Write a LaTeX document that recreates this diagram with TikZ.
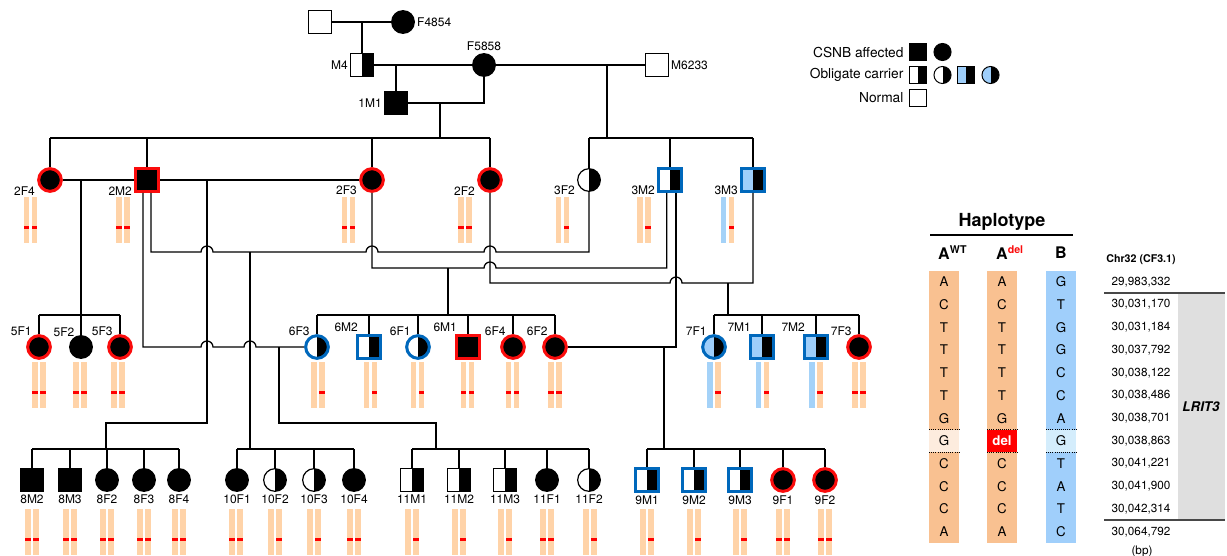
\documentclass[tikz,border=0pt]{standalone}
\usepackage{fontspec}
\setmainfont{TeX Gyre Heros}
\usepackage{tikz}

\definecolor{ringred}{RGB}{250,12,12}
\definecolor{ringblue}{RGB}{0,104,188}
\definecolor{ltblue}{RGB}{158,206,250}
\definecolor{barorange}{RGB}{255,211,168}
\definecolor{barblue}{RGB}{164,210,248}
\definecolor{colorange}{RGB}{249,193,145}
\definecolor{colblue}{RGB}{160,207,251}
\definecolor{paleorange}{RGB}{253,236,222}
\definecolor{paleblue}{RGB}{212,237,252}
\definecolor{boxgray}{RGB}{223,223,223}
\definecolor{rulegray}{RGB}{72,72,72}

\tikzset{
	kin/.style={line width=0.95pt},
	male/.style={rectangle,draw,line width=0.9pt,minimum size=17pt,inner sep=0pt},
	female/.style={circle,draw,line width=0.9pt,minimum size=17pt,inner sep=0pt},
	keysym/.style={draw,line width=0.75pt,minimum size=12.8pt,inner sep=0pt},
	affected/.style={fill=black},
	carrier/.style={path picture={\fill[black] (path picture bounding box.south) rectangle (path picture bounding box.north east);}},
	bcarrier/.style={path picture={\fill[ltblue] (path picture bounding box.south west) rectangle (path picture bounding box.north);
		\fill[black] (path picture bounding box.south) rectangle (path picture bounding box.north east);}},
	redring/.style={draw=ringred,line width=2.25pt},
	bluering/.style={draw=ringblue,line width=2.25pt},
	every label/.append style={inner sep=1.5pt},
	lab2/.style={label={[anchor=east,yshift=-8pt]west:#1}},
	lab3/.style={label={[anchor=south east,xshift=3pt]north west:#1}},
	lab4/.style={label={[label distance=0.5pt]below:#1}},
	legtxt/.style={font=\fontsize{10.3}{12}\selectfont,inner sep=1pt},
	hdr/.style={font=\bfseries\fontsize{12}{14}\selectfont,inner sep=0pt},
	cell/.style={font=\fontsize{10}{12}\selectfont,inner sep=0pt},
	bpcell/.style={font=\fontsize{8.8}{10}\selectfont,inner sep=0pt},
}

% chromosome pair: x of pair centre, top y
\newcommand{\homdel}[2]{%
	\fill[barorange] (#1-6.75,#2) rectangle ++(5.5,46);
	\fill[barorange] (#1+1.25,#2) rectangle ++(5.5,46);
	\fill[red] (#1-6.75,#2+28.5) rectangle ++(5.5,3);
	\fill[red] (#1+1.25,#2+28.5) rectangle ++(5.5,3);}
\newcommand{\hetdel}[3]{%
	\fill[#3] (#1-6.75,#2) rectangle ++(5.5,46);
	\fill[barorange] (#1+1.25,#2) rectangle ++(5.5,46);
	\fill[red] (#1+1.25,#2+28.5) rectangle ++(5.5,3);}

\begin{document}
\begin{tikzpicture}[x=0.75pt,y=-0.75pt,font=\fontsize{9}{10.8}\selectfont]
	
	\useasboundingbox (0,0) rectangle (1227,556);
	
	% generation I
	\node[male] (pGF) at (320,22) {};
	\node[female,affected,label=right:F4854] (pF4854) at (403,22) {};
	\node[male,carrier,label=left:M4] (pM4) at (362,65) {};
	\node[female,affected,label=above:F5858] (pF5858) at (484,65) {};
	\node[male,label=right:M6233] (pM6233) at (657,65) {};
	\node[male,affected,label=left:1M1] (p1M1) at (396,103) {};
	
	\draw[kin] (pGF) -- (pF4854);
	\draw[kin] (pGF -| pM4) -- (pM4);
	\draw[kin] (pM4) -- (pF5858);
	\draw[kin] (pF5858) -- (pM6233);
	\draw[kin] (pM4 -| p1M1) -- (p1M1);
	\draw[kin] (p1M1) -| (pF5858);
	
	% generation II
	\node[female,affected,redring,lab2=2F4] (p2F4) at (50,180) {};
	\node[male,affected,redring,lab2=2M2] (p2M2) at (147,180) {};
	\node[female,affected,redring,lab2=2F3] (p2F3) at (372,180) {};
	\node[female,affected,redring,lab2=2F2] (p2F2) at (490,180) {};
	\node[female,carrier,lab2=3F2] (p3F2) at (589,180) {};
	\node[male,carrier,bluering,lab2=3M2] (p3M2) at (670,180) {};
	\node[male,bcarrier,bluering,lab2=3M3] (p3M3) at (753,180) {};
	
	\coordinate (s2a) at (440,138);
	\coordinate (s2b) at (607,138);
	\draw[kin] (s2a |- p1M1) -- (s2a);
	\draw[kin] (s2b |- pF5858) -- (s2b);
	\draw[kin] (p2F4 |- s2a) -- (p2F2 |- s2a);
	\draw[kin] (p2F4 |- s2a) -- (p2F4);
	\draw[kin] (p2M2 |- s2a) -- (p2M2);
	\draw[kin] (p2F3 |- s2a) -- (p2F3);
	\draw[kin] (p2F2 |- s2a) -- (p2F2);
	\draw[kin] (p3F2 |- s2b) -- (p3M3 |- s2b);
	\draw[kin] (p3F2 |- s2b) -- (p3F2);
	\draw[kin] (p3M2 |- s2b) -- (p3M2);
	\draw[kin] (p3M3 |- s2b) -- (p3M3);
	
	\homdel{30.5}{197}
	\homdel{123}{197}
	\homdel{348.5}{197}
	\homdel{465}{197}
	\hetdel{562.5}{197}{barorange}
	\hetdel{644}{197}{barorange}
	\hetdel{727.5}{197}{barblue}
	
	% generation III
	\node[female,affected,redring,lab3=5F1] (p5F1) at (39,347) {};
	\node[female,affected,lab3=5F2] (p5F2) at (81,347) {};
	\node[female,affected,redring,lab3=5F3] (p5F3) at (120,347) {};
	\node[female,carrier,bluering,lab3=6F3] (p6F3) at (317,347) {};
	\node[male,carrier,bluering,lab3=6M2] (p6M2) at (369,347) {};
	\node[female,carrier,bluering,lab3=6F1] (p6F1) at (418,347) {};
	\node[male,affected,redring,lab3=6M1] (p6M1) at (468,347) {};
	\node[female,affected,redring,lab3=6F4] (p6F4) at (513,347) {};
	\node[female,affected,redring,lab3=6F2] (p6F2) at (555,347) {};
	\node[female,bcarrier,bluering,lab3=7F1] (p7F1) at (714,347) {};
	\node[male,bcarrier,bluering,lab3=7M1] (p7M1) at (762,347) {};
	\node[male,bcarrier,bluering,lab3=7M2] (p7M2) at (816,347) {};
	\node[female,affected,redring,lab3=7F3] (p7F3) at (859,347) {};
	
	\coordinate (t2M2a) at ([xshift=-3pt]p2M2.south);
	\coordinate (t2M2b) at ([xshift=3pt]p2M2.south);
	\coordinate (t3M2a) at ([xshift=-2.5pt]p3M2.south);
	\coordinate (t3M2b) at ([xshift=4.5pt]p3M2.south);
	
	% marriages of generation II
	\draw[kin] (p2F4) -- (p2M2);
	\draw[kin] (p2M2) -- (p2F3);
	\draw[kin] (t2M2b) |- (201,252) arc (180:360:6) -- (366,252) arc (180:360:6)
		-- (484,252) arc (180:360:6) -- (p3F2 |- 0,252) -- (p3F2);
	\draw[kin] (p2F3) |- (484,268) arc (180:360:6) -- (t3M2a |- 0,268) -- (t3M2a);
	\draw[kin] (p2F2) |- (670,283) arc (180:360:6) -- (p3M3 |- 0,283) -- (p3M3);
	\draw[kin] (t2M2a) |- (201,347) arc (180:360:6) -- (244,347) arc (180:360:6) -- (p6F3);
	\draw[kin] (t3M2b) |- (p6F2);
	
	\coordinate (m5) at (81,180);
	\coordinate (s5) at (81,315);
	\coordinate (m6) at (448,268);
	\coordinate (s6) at (448,315);
	\coordinate (m7) at (728,283);
	\coordinate (s7) at (728,315);
	
	\draw[kin] (m5) -- (p5F2);
	\draw[kin] (p5F1 |- s5) -- (p5F3 |- s5);
	\draw[kin] (p5F1 |- s5) -- (p5F1);
	\draw[kin] (p5F3 |- s5) -- (p5F3);
	
	\draw[kin] (m6) -- (s6);
	\draw[kin] (p6F3 |- s6) -- (p6F2 |- s6);
	\draw[kin] (p6F3 |- s6) -- (p6F3);
	\draw[kin] (p6M2 |- s6) -- (p6M2);
	\draw[kin] (p6F1 |- s6) -- (p6F1);
	\draw[kin] (p6M1 |- s6) -- (p6M1);
	\draw[kin] (p6F4 |- s6) -- (p6F4);
	\draw[kin] (p6F2 |- s6) -- (p6F2);
	
	\draw[kin] (m7) -- (s7);
	\draw[kin] (p7F1 |- s7) -- (p7F3 |- s7);
	\draw[kin] (p7F1 |- s7) -- (p7F1);
	\draw[kin] (p7M1 |- s7) -- (p7M1);
	\draw[kin] (p7M2 |- s7) -- (p7M2);
	\draw[kin] (p7F3 |- s7) -- (p7F3);
	
	\homdel{39}{362}
	\homdel{80}{362}
	\homdel{118}{362}
	\hetdel{318}{362}{barorange}
	\hetdel{370.5}{362}{barorange}
	\hetdel{417.5}{362}{barorange}
	\homdel{467.5}{362}
	\homdel{512.5}{362}
	\homdel{555}{362}
	\hetdel{714}{362}{barblue}
	\hetdel{762.5}{362}{barblue}
	\hetdel{816}{362}{barblue}
	\homdel{859}{362}
	
	% generation IV
	\node[male,affected,lab4=8M2] (p8M2) at (32,480) {};
	\node[male,affected,lab4=8M3] (p8M3) at (70,480) {};
	\node[female,affected,lab4=8F2] (p8F2) at (107,480) {};
	\node[female,affected,lab4=8F3] (p8F3) at (144,480) {};
	\node[female,affected,lab4=8F4] (p8F4) at (179,480) {};
	
	\node[female,affected,lab4=10F1] (p10F1) at (237,480) {};
	\node[female,carrier,lab4=10F2] (p10F2) at (275,480) {};
	\node[female,carrier,lab4=10F3] (p10F3) at (314,480) {};
	\node[female,affected,lab4=10F4] (p10F4) at (354,480) {};
	
	\node[male,carrier,lab4=11M1] (p11M1) at (412,480) {};
	\node[male,carrier,lab4=11M2] (p11M2) at (459,480) {};
	\node[male,carrier,lab4=11M3] (p11M3) at (505,480) {};
	\node[female,affected,lab4=11F1] (p11F1) at (547,480) {};
	\node[female,carrier,lab4=11F2] (p11F2) at (589,480) {};
	
	\node[male,carrier,bluering,lab4=9M1] (p9M1) at (647,480) {};
	\node[male,carrier,bluering,lab4=9M2] (p9M2) at (694,480) {};
	\node[male,carrier,bluering,lab4=9M3] (p9M3) at (740,480) {};
	\node[female,affected,redring,lab4=9F1] (p9F1) at (783,480) {};
	\node[female,affected,redring,lab4=9F2] (p9F2) at (825,480) {};
	
	\coordinate (m8) at (207,180);
	\coordinate (s8) at (106,449);
	\coordinate (m10) at (250,252);
	\coordinate (s10) at (250,449);
	\coordinate (m11) at (279,347);
	\coordinate (s11) at (436,449);
	\coordinate (m9) at (664,347);
	\coordinate (s9) at (664,449);
	
	\draw[kin] (m8) |- (106,423) -- (s8);
	\draw[kin] (p8M2 |- s8) -- (p8F4 |- s8);
	\draw[kin] (p8M2 |- s8) -- (p8M2);
	\draw[kin] (p8M3 |- s8) -- (p8M3);
	\draw[kin] (p8F2 |- s8) -- (p8F2);
	\draw[kin] (p8F3 |- s8) -- (p8F3);
	\draw[kin] (p8F4 |- s8) -- (p8F4);
	
	\draw[kin] (m10) -- (s10);
	\draw[kin] (p10F1 |- s10) -- (p10F4 |- s10);
	\draw[kin] (p10F1 |- s10) -- (p10F1);
	\draw[kin] (p10F2 |- s10) -- (p10F2);
	\draw[kin] (p10F3 |- s10) -- (p10F3);
	\draw[kin] (p10F4 |- s10) -- (p10F4);
	
	\draw[kin] (m11) |- (436,423) -- (s11);
	\draw[kin] (p11M1 |- s11) -- (p11F2 |- s11);
	\draw[kin] (p11M1 |- s11) -- (p11M1);
	\draw[kin] (p11M2 |- s11) -- (p11M2);
	\draw[kin] (p11M3 |- s11) -- (p11M3);
	\draw[kin] (p11F1 |- s11) -- (p11F1);
	\draw[kin] (p11F2 |- s11) -- (p11F2);
	
	\draw[kin] (m9) -- (s9);
	\draw[kin] (p9M1 |- s9) -- (p9F2 |- s9);
	\draw[kin] (p9M1 |- s9) -- (p9M1);
	\draw[kin] (p9M2 |- s9) -- (p9M2);
	\draw[kin] (p9M3 |- s9) -- (p9M3);
	\draw[kin] (p9F1 |- s9) -- (p9F1);
	\draw[kin] (p9F2 |- s9) -- (p9F2);
	
	\homdel{32}{509}
	\homdel{70}{509}
	\homdel{107}{509}
	\homdel{144}{509}
	\homdel{179}{509}
	\homdel{236}{509}
	\hetdel{275}{509}{barorange}
	\hetdel{314}{509}{barorange}
	\homdel{354}{509}
	\hetdel{412}{509}{barorange}
	\hetdel{459}{509}{barorange}
	\hetdel{505}{509}{barorange}
	\homdel{547}{509}
	\hetdel{590}{509}{barorange}
	\hetdel{647}{509}{barorange}
	\hetdel{694}{509}{barorange}
	\hetdel{740}{509}{barorange}
	\homdel{783}{509}
	\homdel{825}{509}
	
	% legend
	\node[legtxt,anchor=east] (tAff) at (905,52) {CSNB affected};
	\node[keysym,rectangle,fill=black] (kA1) at (918,52) {};
	\node[keysym,circle,fill=black] (kA2) at (942.5,52) {};
	\node[legtxt,anchor=east] (tCar) at (905,75) {Obligate carrier};
	\node[keysym,rectangle,carrier] (kC1) at (918,75) {};
	\node[keysym,circle,carrier] (kC2) at (942.5,75) {};
	\node[keysym,rectangle,bcarrier] (kC3) at (966,75) {};
	\node[keysym,circle,bcarrier] (kC4) at (990.5,75) {};
	\node[legtxt,anchor=east] (tNor) at (905,98) {Normal};
	\node[keysym,rectangle] (kN1) at (918,98) {};
	
	% haplotype table
	\node[font=\bfseries\fontsize{13.5}{15}\selectfont,inner sep=0pt] (tHap) at (1002,222) {Haplotype};
	\draw[line width=1.2pt] (930,235) -- (1073,235);
	\node[hdr] (hWT) at (944,253) {A\rlap{\textsuperscript{WT}}};
	\node[hdr] (hDel) at (1002,253) {A\rlap{\textsuperscript{\textcolor{ringred}{del}}}};
	\node[hdr] (hB) at (1061,253) {B};
	\node[font=\bfseries\fontsize{8}{10}\selectfont,inner sep=0pt] (tChr) at (1141,260) {Chr32 (CF3.1)};
	
	\fill[colorange] (929,270.65) rectangle (959,543.05);
	\fill[colorange] (987,270.65) rectangle (1017,543.05);
	\fill[colblue] (1046,270.65) rectangle (1076,543.05);
	\fill[paleorange] (929,429.55) rectangle (959,452.25);
	\fill[red] (987,429.55) rectangle (1017,452.25);
	\fill[paleblue] (1046,429.55) rectangle (1076,452.25);
	\draw[densely dotted,line width=0.6pt] (929,429.55) -- (959,429.55) (929,452.25) -- (959,452.25);
	\draw[densely dotted,line width=0.6pt] (987,429.55) -- (1017,429.55) (987,452.25) -- (1017,452.25);
	\draw[densely dotted,line width=0.6pt] (1046,429.55) -- (1076,429.55) (1046,452.25) -- (1076,452.25);
	
	\fill[boxgray] (1178,293.35) rectangle (1225,520.35);
	\draw[rulegray,line width=1.5pt] (1104,293.35) -- (1225,293.35);
	\draw[rulegray,line width=1.5pt] (1104,520.35) -- (1225,520.35);
	\node[font=\bfseries\itshape\fontsize{10}{12}\selectfont] (tGene) at (1201,407) {LRIT3};
	
	\node[cell] (w1) at (944,282) {A}; \node[cell] (d1) at (1002,282) {A}; \node[cell] (b1) at (1061,282) {G}; \node[bpcell] (r1) at (1141,282) {29,983,332};
	\node[cell] (w2) at (944,304.7) {C}; \node[cell] (d2) at (1002,304.7) {C}; \node[cell] (b2) at (1061,304.7) {T}; \node[bpcell] (r2) at (1141,304.7) {30,031,170};
	\node[cell] (w3) at (944,327.4) {T}; \node[cell] (d3) at (1002,327.4) {T}; \node[cell] (b3) at (1061,327.4) {G}; \node[bpcell] (r3) at (1141,327.4) {30,031,184};
	\node[cell] (w4) at (944,350.1) {T}; \node[cell] (d4) at (1002,350.1) {T}; \node[cell] (b4) at (1061,350.1) {G}; \node[bpcell] (r4) at (1141,350.1) {30,037,792};
	\node[cell] (w5) at (944,372.8) {T}; \node[cell] (d5) at (1002,372.8) {T}; \node[cell] (b5) at (1061,372.8) {C}; \node[bpcell] (r5) at (1141,372.8) {30,038,122};
	\node[cell] (w6) at (944,395.5) {T}; \node[cell] (d6) at (1002,395.5) {T}; \node[cell] (b6) at (1061,395.5) {C}; \node[bpcell] (r6) at (1141,395.5) {30,038,486};
	\node[cell] (w7) at (944,418.2) {G}; \node[cell] (d7) at (1002,418.2) {G}; \node[cell] (b7) at (1061,418.2) {A}; \node[bpcell] (r7) at (1141,418.2) {30,038,701};
	\node[cell] (w8) at (944,440.9) {G}; \node[cell,text=white,font=\bfseries\fontsize{10}{12}\selectfont] (d8) at (1002,440.9) {del}; \node[cell] (b8) at (1061,440.9) {G}; \node[bpcell] (r8) at (1141,440.9) {30,038,863};
	\node[cell] (w9) at (944,463.6) {C}; \node[cell] (d9) at (1002,463.6) {C}; \node[cell] (b9) at (1061,463.6) {T}; \node[bpcell] (r9) at (1141,463.6) {30,041,221};
	\node[cell] (w10) at (944,486.3) {C}; \node[cell] (d10) at (1002,486.3) {C}; \node[cell] (b10) at (1061,486.3) {A}; \node[bpcell] (r10) at (1141,486.3) {30,041,900};
	\node[cell] (w11) at (944,509) {C}; \node[cell] (d11) at (1002,509) {C}; \node[cell] (b11) at (1061,509) {T}; \node[bpcell] (r11) at (1141,509) {30,042,314};
	\node[cell] (w12) at (944,531.7) {A}; \node[cell] (d12) at (1002,531.7) {A}; \node[cell] (b12) at (1061,531.7) {C}; \node[bpcell] (r12) at (1141,531.7) {30,064,792};
	\node[bpcell] (tBp) at (1142,551) {(bp)};
	
\end{tikzpicture}
\end{document}
